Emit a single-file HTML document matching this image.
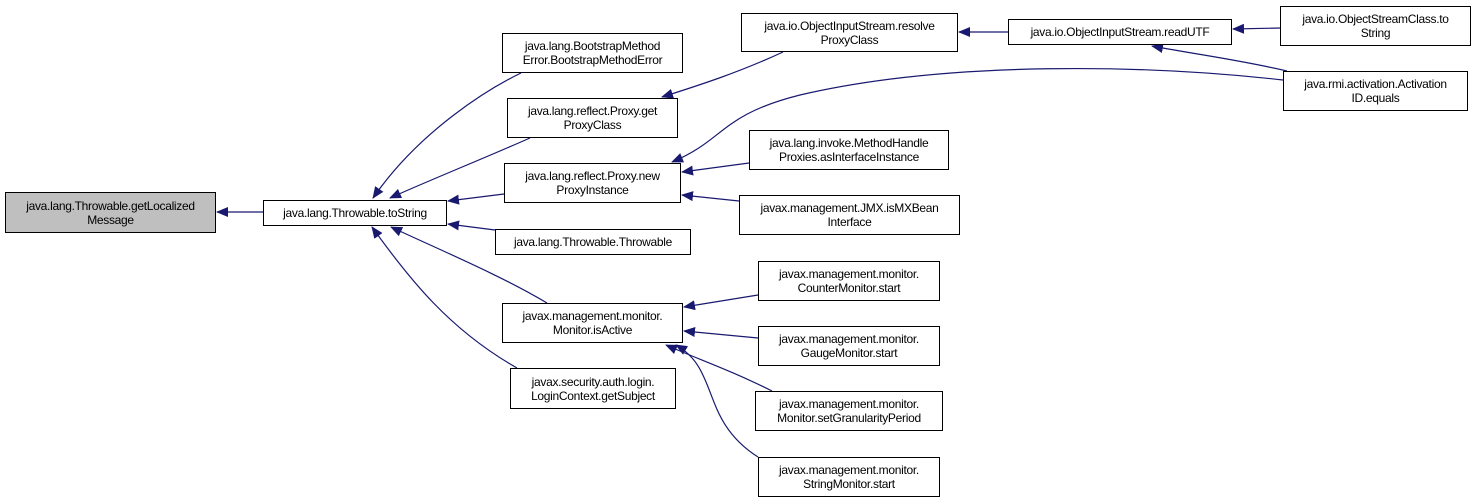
<!DOCTYPE html>
<html><head><meta charset="utf-8"><style>
body{margin:0;background:#fff;width:1473px;height:503px;overflow:hidden;position:relative;font-family:"Liberation Sans",Arial,sans-serif;}
.n{position:absolute;box-sizing:border-box;border:1px solid #000;background:#fff;font-size:12px;line-height:14px;text-align:center;display:flex;align-items:center;justify-content:center;color:#000;white-space:nowrap;letter-spacing:-0.3px}
svg{position:absolute;left:0;top:0}
</style></head><body>
<svg width="1473" height="503">
<defs><marker id="a" markerWidth="12" markerHeight="10" refX="11" refY="5" orient="auto" markerUnits="userSpaceOnUse"><path d="M0,0 L12,5 L0,10 z" fill="#191970"/></marker></defs>
<g fill="none" stroke="#191970" stroke-width="1.2" marker-end="url(#a)">
<path d="M264,212 L217,212"/>
<path d="M521,73 C490,88 420,130 373,198"/>
<path d="M530,138 C480,160 430,180 390,198"/>
<path d="M504,194 L448,201"/>
<path d="M495,230 L448,224"/>
<path d="M547,303 C500,275 440,250 391,227"/>
<path d="M517,368 C450,330 410,280 372,227"/>
<path d="M783,52 C740,72 700,85 662,97"/>
<path d="M1008,32 L959,32"/>
<path d="M1280,28 L1233,29"/>
<path d="M1287,71 C1240,60 1200,55 1152,46"/>
<path d="M1283,80 C1150,65 950,60 800,95 C720,115 725,140 672,162"/>
<path d="M749,163 L682,172"/>
<path d="M739,201 L682,195"/>
<path d="M758,295 L684,307"/>
<path d="M758,338 L684,331"/>
<path d="M772,391 C730,370 700,360 666,345"/>
<path d="M758,457 C700,420 720,370 676,345"/>
</g>
</svg>
<div class="n" style="left:5px;top:192px;width:211px;height:41px;background:#bfbfbf">java.lang.Throwable.getLocalized<br>Message</div>
<div class="n" style="left:263px;top:200px;width:184px;height:26px">java.lang.Throwable.toString</div>
<div class="n" style="left:502px;top:33px;width:181px;height:40px">java.lang.BootstrapMethod<br>Error.BootstrapMethodError</div>
<div class="n" style="left:507px;top:98px;width:171px;height:40px">java.lang.reflect.Proxy.get<br>ProxyClass</div>
<div class="n" style="left:504px;top:163px;width:177px;height:40px">java.lang.reflect.Proxy.new<br>ProxyInstance</div>
<div class="n" style="left:495px;top:229px;width:196px;height:26px">java.lang.Throwable.Throwable</div>
<div class="n" style="left:502px;top:303px;width:181px;height:40px">javax.management.monitor.<br>Monitor.isActive</div>
<div class="n" style="left:510px;top:368px;width:166px;height:41px">javax.security.auth.login.<br>LoginContext.getSubject</div>
<div class="n" style="left:741px;top:13px;width:217px;height:39px">java.io.ObjectInputStream.resolve<br>ProxyClass</div>
<div class="n" style="left:1008px;top:19px;width:224px;height:26px">java.io.ObjectInputStream.readUTF</div>
<div class="n" style="left:1280px;top:6px;width:191px;height:40px">java.io.ObjectStreamClass.to<br>String</div>
<div class="n" style="left:1283px;top:71px;width:185px;height:40px">java.rmi.activation.Activation<br>ID.equals</div>
<div class="n" style="left:749px;top:130px;width:200px;height:40px">java.lang.invoke.MethodHandle<br>Proxies.asInterfaceInstance</div>
<div class="n" style="left:739px;top:195px;width:221px;height:40px">javax.management.JMX.isMXBean<br>Interface</div>
<div class="n" style="left:758px;top:261px;width:182px;height:40px">javax.management.monitor.<br>CounterMonitor.start</div>
<div class="n" style="left:758px;top:326px;width:182px;height:40px">javax.management.monitor.<br>GaugeMonitor.start</div>
<div class="n" style="left:755px;top:391px;width:188px;height:40px">javax.management.monitor.<br>Monitor.setGranularityPeriod</div>
<div class="n" style="left:758px;top:457px;width:182px;height:40px">javax.management.monitor.<br>StringMonitor.start</div>
</body></html>
